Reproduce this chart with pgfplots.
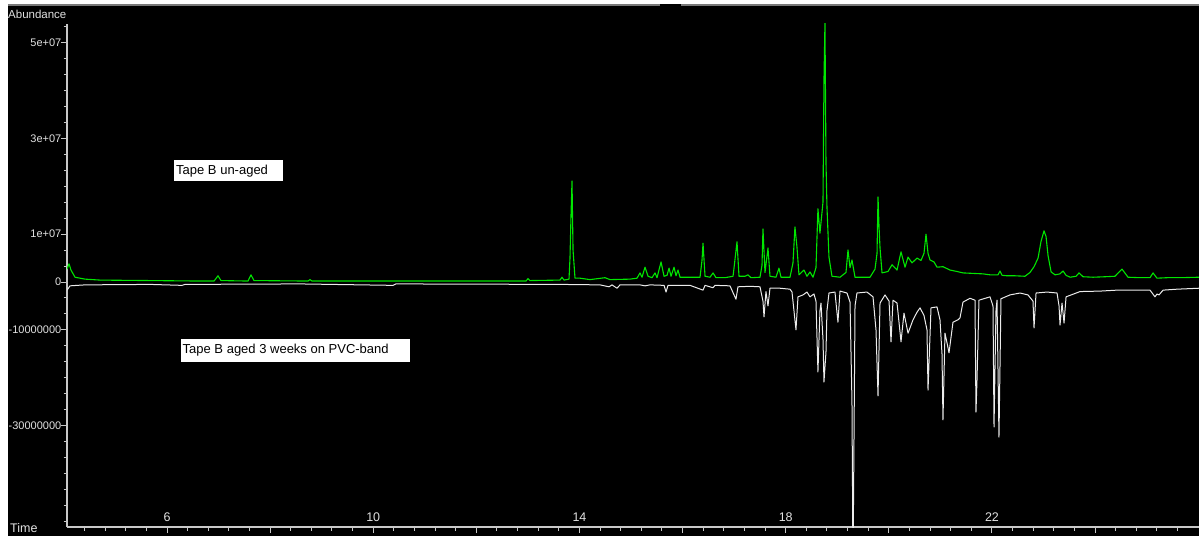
\documentclass[border=0pt]{standalone}
\usepackage{fontspec}
\setmainfont{Liberation Sans}
\usepackage{pgfplots}
\usepackage{pgfplotstable}
\pgfplotsset{compat=1.18}
\definecolor{trgreen}{RGB}{0,230,0}
\definecolor{trwhite}{RGB}{235,235,235}
\definecolor{axgray}{RGB}{200,200,200}
\definecolor{lblgray}{RGB}{225,225,225}
\pgfplotstableread{
t v
4.061 0.27
4.099 0.38
4.138 0.25
4.216 0.10
4.410 0.06
4.701 0.04
5.670 0.03
6.640 0.02
6.912 0.02
6.989 0.13
7.047 0.03
7.571 0.02
7.629 0.15
7.687 0.03
8.735 0.02
8.773 0.05
8.812 0.02
10.519 0.02
12.265 0.02
12.963 0.02
13.002 0.07
13.040 0.03
13.622 0.04
13.661 0.10
13.700 0.04
13.797 0.06
13.816 0.50
13.836 1.40
13.855 2.11
13.875 0.67
13.913 0.08
14.010 0.08
14.204 0.05
14.495 0.09
14.592 0.05
14.980 0.06
15.116 0.08
15.174 0.19
15.213 0.10
15.271 0.31
15.329 0.12
15.407 0.09
15.465 0.19
15.504 0.09
15.582 0.42
15.640 0.12
15.698 0.14
15.737 0.29
15.776 0.12
15.834 0.31
15.872 0.13
15.911 0.25
15.950 0.10
16.144 0.10
16.338 0.10
16.376 0.45
16.396 0.81
16.435 0.12
16.532 0.10
16.590 0.19
16.648 0.09
16.823 0.09
16.978 0.12
16.997 0.29
17.055 0.84
17.094 0.12
17.210 0.12
17.268 0.15
17.326 0.09
17.501 0.10
17.540 0.35
17.559 1.11
17.598 0.20
17.656 0.71
17.695 0.12
17.811 0.10
17.869 0.29
17.908 0.10
18.083 0.10
18.141 0.40
18.179 1.15
18.218 0.73
18.257 0.15
18.354 0.25
18.412 0.12
18.471 0.21
18.529 0.10
18.587 0.30
18.625 1.53
18.664 1.02
18.723 1.67
18.742 4.22
18.761 5.42
18.781 2.50
18.800 1.57
18.839 0.52
18.897 0.12
19.053 0.10
19.169 0.20
19.208 0.67
19.247 0.30
19.285 0.46
19.344 0.10
19.635 0.10
19.732 0.27
19.771 0.60
19.790 1.78
19.810 1.15
19.829 0.71
19.868 0.19
19.984 0.22
20.062 0.36
20.159 0.25
20.236 0.63
20.314 0.31
20.372 0.52
20.450 0.40
20.547 0.50
20.624 0.45
20.682 0.60
20.721 1.00
20.760 0.60
20.799 0.46
20.876 0.42
20.934 0.31
21.050 0.32
21.186 0.25
21.322 0.22
21.438 0.19
21.632 0.18
21.826 0.17
21.962 0.15
22.117 0.15
22.156 0.23
22.195 0.14
22.292 0.13
22.447 0.13
22.641 0.12
22.738 0.20
22.816 0.32
22.894 0.50
22.952 0.85
23.010 1.07
23.049 0.95
23.088 0.55
23.147 0.21
23.224 0.15
23.320 0.17
23.379 0.23
23.437 0.14
23.514 0.10
23.631 0.12
23.689 0.19
23.766 0.11
23.960 0.10
24.193 0.11
24.386 0.12
24.522 0.27
24.639 0.10
24.872 0.09
25.065 0.09
25.124 0.19
25.201 0.08
25.395 0.09
25.647 0.09
26.016 0.10
}\unaged
\pgfplotstableread{
t v
4.061 -0.17
4.119 -0.08
4.410 -0.06
5.670 -0.05
6.291 -0.07
6.349 -0.05
8.580 -0.04
10.383 -0.07
10.441 -0.04
13.622 -0.05
14.398 -0.06
14.573 -0.10
14.631 -0.06
14.728 -0.13
14.786 -0.06
15.174 -0.06
15.271 -0.08
15.368 -0.06
15.640 -0.07
15.679 -0.21
15.717 -0.07
16.144 -0.07
16.396 -0.17
16.435 -0.07
16.590 -0.12
16.629 -0.07
16.919 -0.08
17.035 -0.36
17.074 -0.10
17.307 -0.09
17.501 -0.10
17.559 -0.40
17.579 -0.73
17.617 -0.20
17.656 -0.50
17.695 -0.13
17.889 -0.13
18.083 -0.15
18.122 -0.21
18.199 -1.00
18.238 -0.31
18.335 -0.27
18.412 -0.21
18.471 -0.31
18.548 -0.25
18.587 -0.40
18.625 -1.88
18.664 -0.60
18.684 -0.44
18.723 -1.20
18.742 -2.09
18.781 -1.46
18.800 -0.60
18.839 -0.23
18.955 -0.21
19.013 -0.84
19.053 -0.19
19.188 -0.23
19.247 -0.42
19.285 -2.50
19.305 -6.00
19.344 -0.50
19.382 -0.23
19.576 -0.21
19.693 -0.31
19.751 -1.00
19.790 -2.38
19.829 -0.44
19.926 -0.27
20.004 -0.40
20.042 -1.25
20.081 -0.38
20.159 -0.44
20.236 -1.25
20.294 -0.65
20.372 -1.07
20.469 -0.79
20.547 -0.63
20.605 -0.54
20.682 -0.70
20.740 -1.00
20.760 -2.26
20.818 -0.54
20.934 -0.52
20.992 -0.79
21.031 -1.50
21.050 -2.88
21.089 -1.07
21.128 -1.27
21.167 -1.48
21.244 -0.84
21.341 -0.79
21.380 -0.75
21.438 -0.42
21.574 -0.34
21.671 -0.38
21.690 -2.72
21.710 -2.05
21.748 -0.38
21.962 -0.31
22.020 -0.50
22.040 -3.03
22.078 -0.60
22.098 -0.38
22.136 -3.24
22.175 -0.35
22.350 -0.27
22.544 -0.23
22.699 -0.27
22.796 -0.40
22.816 -0.96
22.855 -0.23
23.068 -0.21
23.262 -0.23
23.301 -0.50
23.320 -0.90
23.359 -0.44
23.398 -0.86
23.437 -0.31
23.708 -0.20
24.096 -0.19
24.425 -0.17
25.065 -0.17
25.162 -0.31
25.201 -0.25
25.240 -0.27
25.318 -0.17
25.589 -0.15
26.016 -0.13
}\aged
\begin{document}
\begin{tikzpicture}[x=1pt,y=1pt]
\useasboundingbox (0,0) rectangle (1199,536);
\fill[white] (0,0) rectangle (1199,536);
\fill[black] (8,0) rectangle (1199,530);
\fill[axgray!60!black] (8,530) rectangle (660,531.5);
\fill[axgray!60!black] (681,530) rectangle (1199,531.5);
\fill[black] (660,529) rectangle (681,531.5);
\begin{axis}[
  at={(67pt,9pt)}, anchor=south west,
  scale only axis, width=1132pt, height=503pt,
  xmin=4.0605, xmax=26.0155, ymin=-5.12, ymax=5.392,
  axis lines*=left,
  axis line style={draw=axgray, line width=1.2pt},
  every tick/.style={draw=axgray, line width=1pt},
  tick align=outside,
  major tick length=6pt, minor tick length=3.5pt,
  xtick={6,8,10,12,14,16,18,20,22,24},
  xticklabels={6,,10,,14,,18,,22,},
  minor xtick={4.4,4.8,5.2,5.6,6.4,6.8,7.2,7.6,8.4,8.8,9.2,9.6,10.4,10.8,11.2,11.6,12.4,12.8,13.2,13.6,14.4,14.8,15.2,15.6,16.4,16.8,17.2,17.6,18.4,18.8,19.2,19.6,20.4,20.8,21.2,21.6,22.4,22.8,23.2,23.6,24.4,24.8,25.2,25.6},
  ytick={-3,-1,0,1,3,5},
  yticklabels={-30000000,-10000000,0,1e+07,3e+07,5e+07},
  minor ytick={-5,-4.6667,-4.3333,-4,-3.6667,-3.3333,-2.6667,-2.3333,-2,-1.6667,-1.3333,-0.6667,-0.3333,0.3333,0.6667,1.3333,1.6667,2,2.3333,2.6667,3.3333,3.6667,4,4.3333,4.6667,5.3333},
  ticklabel style={font=\fontsize{11}{12}\selectfont, text=lblgray},
  xticklabel style={anchor=south, inner sep=0pt, yshift=11pt, font=\fontsize{12.5}{13}\selectfont},
  yticklabel style={anchor=east, inner sep=0pt, xshift=0.5pt},
  clip=true,
]
\addplot[trwhite, line width=1pt, line join=round, no marks] table[x=t,y=v] {\aged};
\addplot[trgreen, line width=1.1pt, line join=round, no marks] table[x=t,y=v] {\unaged};
\end{axis}
\node[anchor=west, inner sep=0pt, text=lblgray, font=\fontsize{11.5}{12}\selectfont] at (8,522) {Abundance};
\node[anchor=west, inner sep=0pt, text=lblgray, font=\fontsize{12.5}{13}\selectfont] at (10,8) {Time};
\fill[white] (174,355) rectangle (283,376);
\node[anchor=base west, inner sep=0pt, text=black, font=\fontsize{13}{14}\selectfont] at (176,361.7) {Tape B un-aged};
\fill[white] (181,174) rectangle (410,197);
\node[anchor=base west, inner sep=0pt, text=black, font=\fontsize{13}{14}\selectfont] at (182.5,182.7) {Tape B aged 3 weeks on PVC-band};
\end{tikzpicture}
\end{document}
